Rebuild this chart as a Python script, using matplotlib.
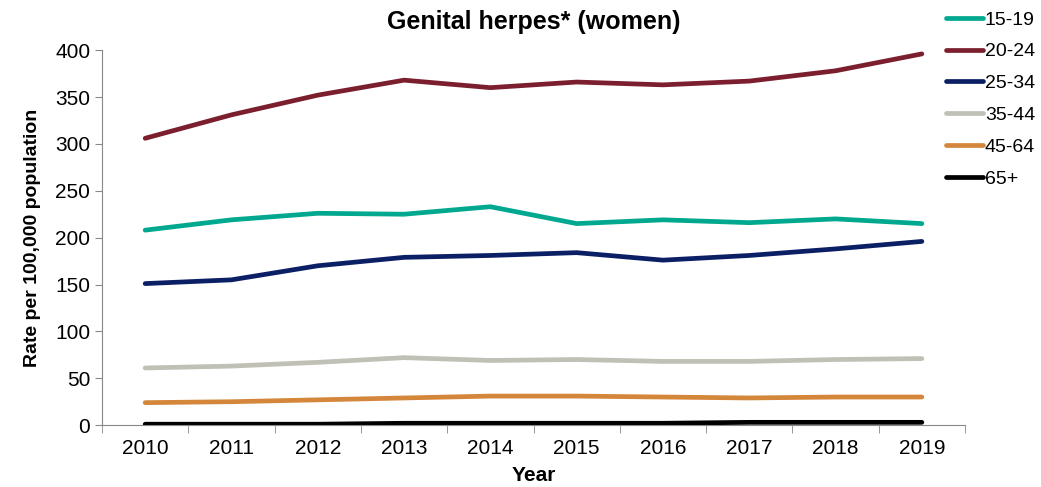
import numpy as np
import matplotlib.pyplot as plt

plt.rcParams['font.family'] = ['Liberation Sans', 'DejaVu Sans']

years = ["2010", "2011", "2012", "2013", "2014", "2015", "2016", "2017", "2018", "2019"]
age_groups = ["15-19", "20-24", "25-34", "35-44", "45-64", "65+"]

r_15_19 = [208, 219, 226, 225, 233, 215, 219, 216, 220, 215]
r_20_24 = [306, 331, 352, 368, 360, 366, 363, 367, 378, 396]
r_25_34 = [151, 155, 170, 179, 181, 184, 176, 181, 188, 196]
r_35_44 = [61, 63, 67, 72, 69, 70, 68, 68, 70, 71]
r_45_64 = [24, 25, 27, 29, 31, 31, 30, 29, 30, 30]
r_65 = [1, 1, 1, 2, 2, 2, 2, 3, 3, 3]

colors = ["#00A88F", "#7B1F2E", "#0B1F65", "#C0C0B6", "#D4873A", "#000000"]
series = [r_15_19, r_20_24, r_25_34, r_35_44, r_45_64, r_65]

fig = plt.figure(figsize=(10.41, 4.87), dpi=100)
ax = fig.add_axes([0.098, 0.127, 0.829, 0.77])

x = np.arange(len(years))
for vals, c, lab in zip(series, colors, age_groups):
    ax.plot(x, vals, color=c, linewidth=3.4, label=lab, solid_capstyle='round')

ax.set_xlim(-0.5, len(years) - 0.5)
ax.set_ylim(0, 400)
ax.set_yticks(range(0, 401, 50))
ax.set_xticks(x)
ax.set_xticklabels(years)
ax.set_xticks(np.arange(-0.5, len(years)), minor=True)
ax.tick_params(axis='x', which='major', length=0, labelsize=15, pad=10)
ax.tick_params(axis='x', which='minor', length=6, color='#888888')
ax.tick_params(axis='y', labelsize=15, length=5, color='#888888')

for s in ['top', 'right']:
    ax.spines[s].set_visible(False)
ax.spines['left'].set_color('#888888')
ax.spines['bottom'].set_color('#888888')

ax.set_title("Genital herpes* (women)", fontsize=18, fontweight='bold', pad=15)
ax.set_xlabel("Year", fontsize=15, fontweight='bold', labelpad=6)
ax.set_ylabel("Rate per 100,000 population", fontsize=14, fontweight='bold', labelpad=10)

ax.legend(loc='upper left', bbox_to_anchor=(0.969, 1.125), frameon=False, fontsize=14,
          handlelength=1.9, handletextpad=0.1, labelspacing=0.73, borderaxespad=0)

fig.savefig("out.png", dpi=100)
